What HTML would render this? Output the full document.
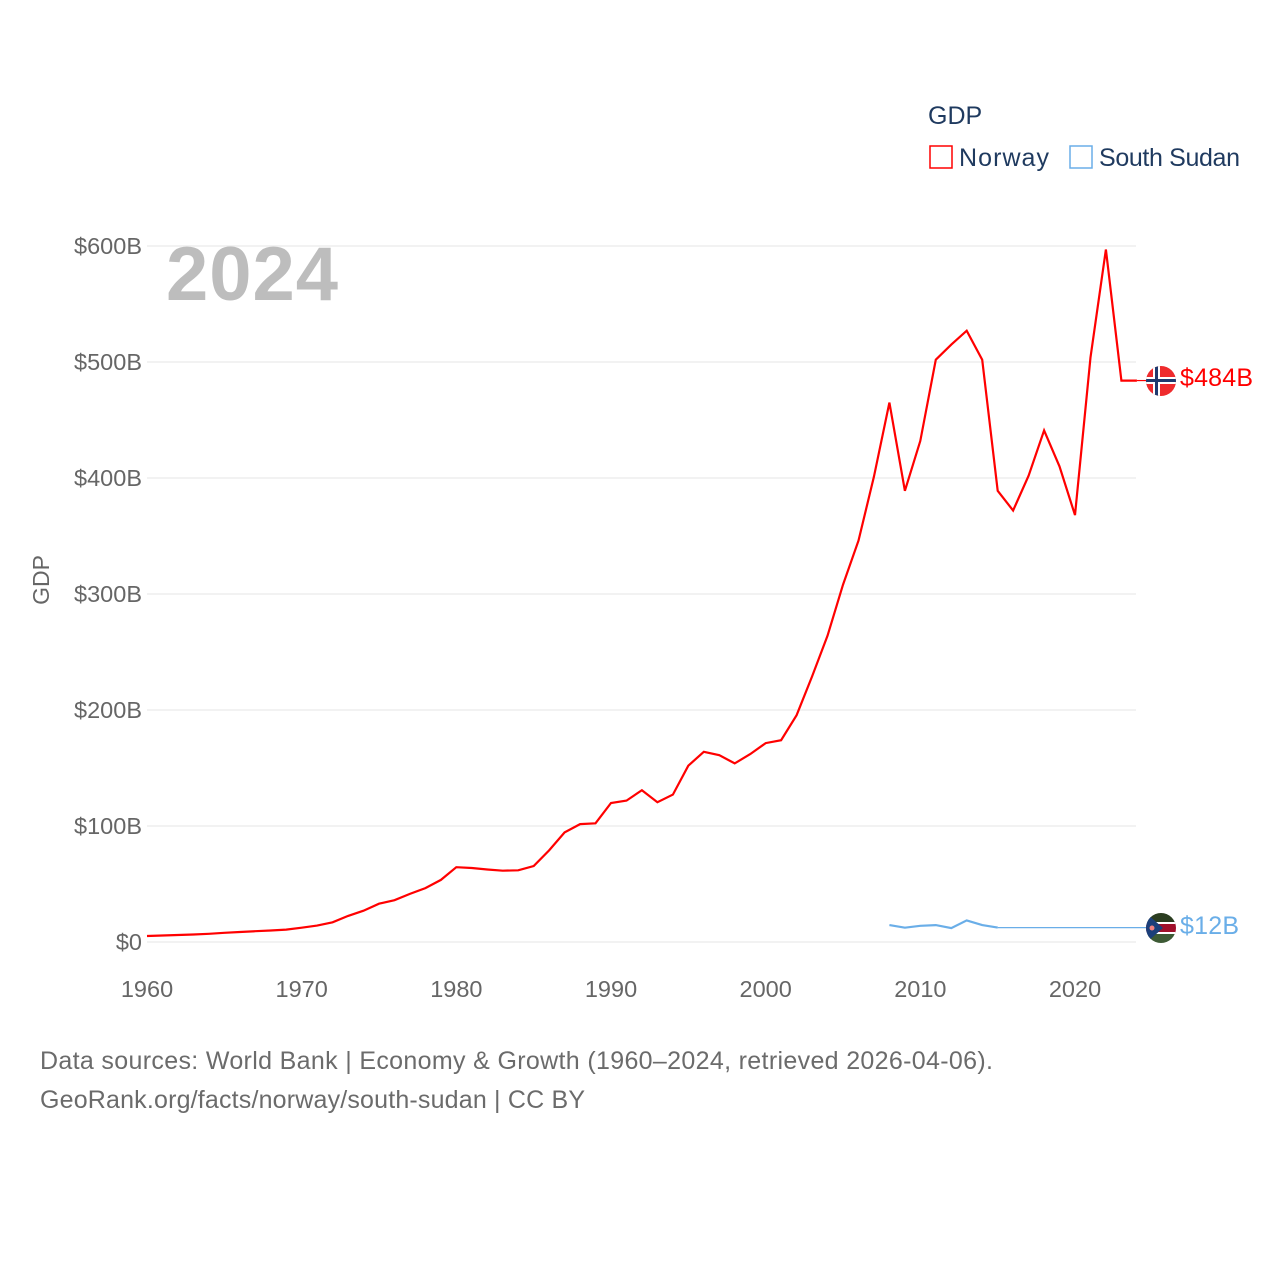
<!DOCTYPE html>
<html><head><meta charset="utf-8"><style>
body{margin:0;background:#fff;font-family:"Liberation Sans",sans-serif}
svg text{font-family:"Liberation Sans",sans-serif}
</style></head><body>
<svg id="chart" width="1280" height="1280" viewBox="0 0 1280 1280">
<g id="grid"></g>
<g id="yticks"></g>
<g id="xticks"></g>
<text x="49" y="580" transform="rotate(-90 49 580)" text-anchor="middle" font-size="23" fill="#666">GDP</text>
<text x="166" y="300" font-size="76" font-weight="bold" fill="#bdbdbd" textLength="172">2024</text>
<g>
<text x="928" y="124" font-size="25" fill="#1f3a5f">GDP</text>
<rect x="930" y="146" width="22" height="22" fill="none" stroke="#ff0000" stroke-width="1.5"/>
<text x="959" y="166" font-size="25" fill="#1f3a5f" textLength="90">Norway</text>
<rect x="1070" y="146" width="22" height="22" fill="none" stroke="#6aaee8" stroke-width="1.5"/>
<text x="1099" y="166" font-size="25" fill="#1f3a5f" textLength="141">South Sudan</text>
</g>
<g id="series"></g>
<g>
<clipPath id="c1"><circle cx="1161" cy="381" r="15"/></clipPath>
<g clip-path="url(#c1)"><rect x="1146" y="366" width="30" height="30" fill="#ef2b2d"/><rect x="1153" y="366" width="7" height="30" fill="#fff"/><rect x="1146" y="377" width="30" height="7" fill="#fff"/><rect x="1155" y="366" width="3" height="30" fill="#1f3a6e"/><rect x="1146" y="379" width="30" height="3" fill="#1f3a6e"/></g>
</g>
<g>
<clipPath id="c2"><circle cx="1161" cy="928" r="15"/></clipPath>
<g clip-path="url(#c2)"><rect x="1146" y="913" width="30" height="10" fill="#2b3d20"/><rect x="1146" y="923" width="30" height="10" fill="#a0102a"/><rect x="1146" y="922" width="30" height="2" fill="#fff"/><rect x="1146" y="932" width="30" height="2" fill="#fff"/><rect x="1146" y="934" width="30" height="9" fill="#3d5a35"/><polygon points="1146,913 1163,928 1146,943" fill="#1c3f7a"/><circle cx="1152" cy="928" r="2.5" fill="#f08080"/></g>
</g>
<text x="1180" y="386" font-size="25" fill="#ff0000" textLength="73">$484B</text>
<text x="1180" y="934" font-size="25" fill="#6aaee8" textLength="59">$12B</text>
<text x="40" y="1069" font-size="25" fill="#6b6b6b" textLength="953">Data sources: World Bank | Economy &amp; Growth (1960–2024, retrieved 2026-04-06).</text>
<text x="40" y="1108" font-size="25" fill="#6b6b6b" textLength="545">GeoRank.org/facts/norway/south-sudan | CC BY</text>
</svg>
<script>
const yTicks=[0,100,200,300,400,500,600];
const yTickLabels=["$0","$100B","$200B","$300B","$400B","$500B","$600B"];
const xTicks=[1960,1970,1980,1990,2000,2010,2020];
const norwayYears=[1960,1961,1962,1963,1964,1965,1966,1967,1968,1969,1970,1971,1972,1973,1974,1975,1976,1977,1978,1979,1980,1981,1982,1983,1984,1985,1986,1987,1988,1989,1990,1991,1992,1993,1994,1995,1996,1997,1998,1999,2000,2001,2002,2003,2004,2005,2006,2007,2008,2009,2010,2011,2012,2013,2014,2015,2016,2017,2018,2019,2020,2021,2022,2023,2024];
const norwayGDP=[5.2,5.6,6.0,6.5,7.1,7.9,8.6,9.3,9.9,10.7,12.3,14.1,17,22.5,27,33,36,41.5,46.5,53.5,64.5,63.8,62.5,61.5,61.8,65.5,79,94.5,101.6,102.3,119.8,121.9,130.9,120.5,127.1,152,164,161,154,162,171.5,174,195.5,229,264,308,346,401,465,389,432,502,515,527,502,389,372,402,441,410,368,504,597,484,484];
const ssYears=[2008,2009,2010,2011,2012,2013,2014,2015];
const ssGDP=[14.6,12.3,14,14.6,12,18.6,14.6,12.4];
const X=y=>147+(y-1960)*(1075-147)/60;
const Y=v=>942-v*1.16;
const NS="http://www.w3.org/2000/svg";
function mk(t,a,p){const e=document.createElementNS(NS,t);for(const k in a)e.setAttribute(k,a[k]);p.appendChild(e);return e;}
const grid=document.getElementById('grid'),yt=document.getElementById('yticks'),xt=document.getElementById('xticks'),se=document.getElementById('series');
yTicks.forEach((v,i)=>{
 const l=mk('line',{x1:147,x2:1136,y1:Y(v),y2:Y(v),stroke:'#e6e6e6','stroke-width':1},grid);
 
 
 const t=mk('text',{x:142,y:Y(v)+8,'text-anchor':'end','font-size':23.5,fill:'#666'},yt);
 t.textContent=yTickLabels[i];
 
 
});
xTicks.forEach(v=>{
 const t=mk('text',{x:X(v),y:997,'text-anchor':'middle','font-size':23.5,fill:'#666'},xt);
 t.textContent=v;
 
 
});
function line(years,vals,color,name){
 const d=years.map((y,i)=>(i?'L':'M')+X(y).toFixed(1)+','+Y(vals[i]).toFixed(1)).join('');
 const p=mk('path',{d:d,fill:'none',stroke:color,'stroke-width':2.2,'stroke-linejoin':'miter'},se);
 
 
 const ly=Y(vals[vals.length-1]);
 const c=mk('line',{x1:X(years[years.length-1]),y1:ly,x2:1150,y2:ly,stroke:color,'stroke-width':1.2},se);
 
 
}
line(norwayYears,norwayGDP,'#ff0000','norway');
line(ssYears,ssGDP,'#6aaee8','south-sudan');
</script>
</body></html>
